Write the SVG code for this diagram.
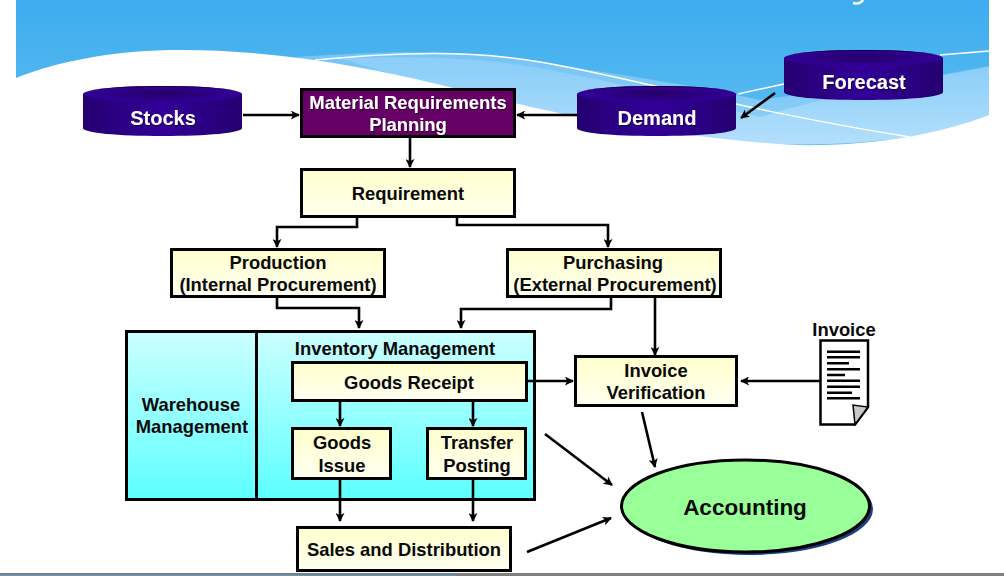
<svg xmlns="http://www.w3.org/2000/svg" width="1004" height="576" viewBox="0 0 1004 576">
<style>
text{font-family:"Liberation Sans",Arial,sans-serif;font-weight:700;text-anchor:middle;fill:#0a0a0a;font-size:18.4px}
.w{fill:#fff;filter:url(#ts)}
.big{font-size:20px}
.box{fill:url(#cream);stroke:#000;stroke-width:3}
.con{fill:none;stroke:#000;stroke-width:2.6;marker-end:url(#ah)}
.rim{fill:url(#drum)}
.top{fill:url(#topf)}
</style>
<defs>
<linearGradient id="sky" x1="0" y1="0" x2="0" y2="1"><stop offset="0" stop-color="#3dacee"/><stop offset=".55" stop-color="#4fb6f0"/><stop offset="1" stop-color="#5fbdf3"/></linearGradient>
<linearGradient id="lite" gradientUnits="userSpaceOnUse" x1="0" y1="50" x2="0" y2="146"><stop offset="0" stop-color="#74c4f5"/><stop offset="1" stop-color="#92d0f8"/></linearGradient>
<linearGradient id="lite2" gradientUnits="userSpaceOnUse" x1="0" y1="70" x2="0" y2="146"><stop offset="0" stop-color="#8dcff8"/><stop offset="1" stop-color="#b4dffb"/></linearGradient>
<linearGradient id="cream" x1="0" y1="0" x2="0" y2="1"><stop offset="0" stop-color="#ffffcc"/><stop offset="1" stop-color="#fffff0"/></linearGradient>
<linearGradient id="cyan" x1="0" y1="0" x2="0" y2="1"><stop offset="0" stop-color="#ccffff"/><stop offset="1" stop-color="#5dffff"/></linearGradient>
<linearGradient id="drum" x1="0" y1="0" x2="1" y2="0"><stop offset="0" stop-color="#240070"/><stop offset=".5" stop-color="#330099"/><stop offset="1" stop-color="#240070"/></linearGradient>
<radialGradient id="topf"><stop offset="0" stop-color="#240066"/><stop offset="1" stop-color="#330099"/></radialGradient>
<filter id="ts" x="-10%" y="-20%" width="125%" height="150%"><feDropShadow dx="1" dy="1.2" stdDeviation=".5" flood-color="#000" flood-opacity=".55"/></filter>
<marker id="ah" viewBox="0 0 10 10" refX="9" refY="5" markerWidth="9" markerHeight="9" markerUnits="userSpaceOnUse" orient="auto"><path d="M0 0L10 5L0 10L2.500 5Z" fill="#000"/></marker>
<g id="dr"><path class="rim" d="M0 8V42C0 47 35 50 79.500 50C124 50 159 47 159 42V8Z"/><ellipse class="top" cx="79.500" cy="8" rx="79.500" ry="8"/><path d="M0 8C0 3 35 0 79.500 0C124 0 159 3 159 8C159 3 124 1 79.500 1C35 1 0 3 0 8Z" fill="#120033"/></g>
</defs>

<g id="background">
<rect x="16" y="0" width="973" height="150" fill="url(#sky)"/>
<path d="M295 57C400 50 470 50 540 62C620 75 700 86 760 100C830 90 920 80 989 66V115C930 140 850 146 770 144C640 142 500 100 295 57Z" fill="url(#lite)"/>
<path d="M340 58C420 56 470 58 520 65C600 78 690 100 760 117C830 95 920 80 989 67V115C930 140 850 146 770 144C680 142 500 110 340 58Z" fill="url(#lite2)"/>
<path d="M16 78C60 60 120 50 180 50C280 50 370 68 433 83C490 97 600 127 707 137C750 142 790 146 820 145C880 144 940 134 989 115V150H16Z" fill="#fff"/>
<path d="M0 0H16V150H0ZM989 0H1004V150H989Z" fill="#fff"/>
<path d="M315 60C400 52 470 50 540 62C620 75 740 110 910 137" fill="none" stroke="#fff" stroke-width="1.500"/>
<path d="M738 94L784 84M940 55L989 51" fill="none" stroke="#fff" stroke-width="1.500"/>
<path d="M853 3C857 4 861 3 863 0" fill="none" stroke="#fff" stroke-width="2.500"/>
<rect x="0" y="573" width="1004" height="3" fill="#808080"/>
<rect x="0" y="575" width="455" height="1" fill="#5a9cc4"/>
</g>

<g id="stocks"><use href="#dr" x="83" y="86"/><text class="w big" x="163" y="125">Stocks</text></g>
<g id="demand"><use href="#dr" x="577" y="86"/><text class="w big" x="657" y="125">Demand</text></g>
<g id="forecast"><use href="#dr" x="784" y="50"/><text class="w big" x="864" y="89">Forecast</text></g>

<g id="mrp"><rect x="301.500" y="89.500" width="213" height="47" fill="#660066" stroke="#000" stroke-width="3"/><text class="w" x="408" y="109">Material Requirements</text><text class="w" x="408" y="131">Planning</text></g>
<g id="requirement"><rect class="box" x="301.500" y="169.500" width="213" height="47"/><text x="408" y="200">Requirement</text></g>
<g id="production"><rect class="box" x="171.500" y="249.500" width="213" height="47"/><text x="278" y="269">Production</text><text x="278" y="291">(Internal Procurement)</text></g>
<g id="purchasing"><rect class="box" x="507.500" y="249.500" width="213" height="47"/><text x="613" y="269">Purchasing</text><text x="615" y="291">(External Procurement)</text></g>

<g id="warehouse"><rect x="126.500" y="331.500" width="130" height="168" fill="url(#cyan)" stroke="#000" stroke-width="3"/><text x="191" y="411">Warehouse</text><text x="192" y="433">Management</text></g>
<g id="inventory"><rect x="256.500" y="331.500" width="278" height="168" fill="url(#cyan)" stroke="#000" stroke-width="3"/><text x="395" y="355">Inventory Management</text></g>
<g id="goods-receipt"><rect class="box" x="292.500" y="362.500" width="234" height="38"/><text x="409" y="389">Goods Receipt</text></g>
<g id="goods-issue"><rect class="box" x="292.500" y="428.500" width="98" height="50"/><text x="342" y="449">Goods</text><text x="342" y="472">Issue</text></g>
<g id="transfer-posting"><rect class="box" x="427.500" y="428.500" width="98" height="50"/><text x="477" y="449">Transfer</text><text x="477" y="472">Posting</text></g>
<g id="sales"><rect class="box" x="297.500" y="527.500" width="213" height="43"/><text x="404" y="556">Sales and Distribution</text></g>
<g id="invoice-verification"><rect class="box" x="575.500" y="356.500" width="161" height="49"/><text x="656" y="377">Invoice</text><text x="656" y="399">Verification</text></g>

<g id="invoice"><text x="844" y="336">Invoice</text>
<path d="M820.500 340.500H868V407L855 424.500H820.500Z" fill="#fff" stroke="#000" stroke-width="2.500"/>
<path d="M868 407L855 424.500L853 405Z" fill="#c8c8c8" stroke="#000" stroke-width="1.500"/>
<path d="M827 351.700H860M827 357.300H860M827 363.300H849M827 369.300H860M827 375H845M827 380.700H860M827 386.700H860M827 392.700H852M827 398.300H860" stroke="#000" stroke-width="2.500" fill="none"/></g>

<g id="accounting"><ellipse cx="749" cy="509" rx="124" ry="46" fill="#1a3f7f"/><ellipse cx="745.500" cy="506" rx="124" ry="46" fill="#99ff99" stroke="#000" stroke-width="3"/><text x="745" y="515" style="font-size:22.500px">Accounting</text></g>

<g id="connectors">
<path class="con" d="M243 115H299"/>
<path class="con" d="M577 115H517"/>
<path class="con" d="M775 93L741 118"/>
<path class="con" d="M410 137V167"/>
<path class="con" d="M357 217V227H277V247"/>
<path class="con" d="M457 217V225H608V247"/>
<path class="con" d="M277 297V308H359V328"/>
<path class="con" d="M611 297V309H461V328"/>
<path class="con" d="M655 297V355"/>
<path class="con" d="M527 381H573"/>
<path class="con" d="M820 381H741"/>
<path class="con" d="M642 412L655 467"/>
<path class="con" d="M545 434L612 485"/>
<path class="con" d="M527 552L611 518"/>
<path class="con" d="M340 401V426"/>
<path class="con" d="M473 401V426"/>
<path class="con" d="M340 479V521"/>
<path class="con" d="M473 479V521"/>
</g>
</svg>
